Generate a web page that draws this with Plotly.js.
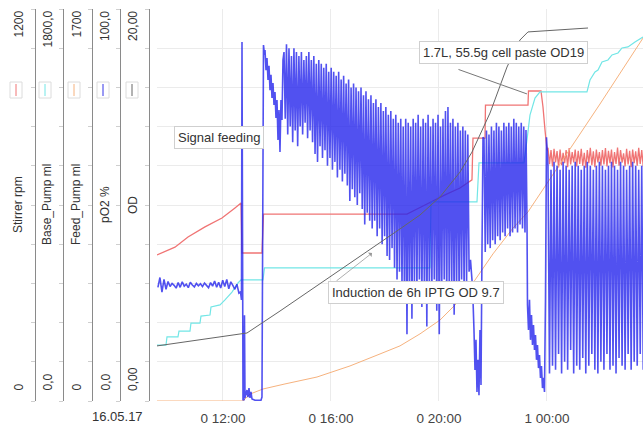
<!DOCTYPE html>
<html><head><meta charset="utf-8">
<script src="https://cdn.plot.ly/plotly-3.0.1.min.js"></script>
<style>html,body{margin:0;padding:0;background:#fff}#chart{width:643px;height:428px}</style>
</head><body><div id="chart"></div>
<script>
// ---- time axis (hours since 16.05.17 00:00) ----
const xTickVals = [12, 16, 20, 24];
const xTickText = ['0 12:00', '0 16:00', '0 20:00', '1 00:00'];
const dateLabel = '16.05.17';

// ---- left axes ----
const axisTitles = ['Stirrer rpm', 'Base_Pump ml', 'Feed_Pump ml', 'pO2 %', 'OD'];
const axisMax = [1200, 1800, 1700, 100, 20];
const axisTopLabels = ['1200', '1800,0', '1700', '100,0', '20,00'];
const axisBottomLabels = ['0', '0,0', '0', '0,0', '0,00'];

// ---- Stirrer rpm ----
const stirT = [9.556, 10.222, 10.704, 11.333, 11.963, 12.444, 12.667, 12.704, 13.444, 13.5, 18.815, 19.481, 20.222, 20.778, 21.222, 21.259, 21.704, 21.722, 23.296, 23.315, 23.778, 23.852, 23.926, 24.0];
const stirV = [447, 471, 502, 533, 560, 591, 606, 453, 453, 572, 572, 600, 631, 652, 677, 805, 805, 906, 906, 949, 949, 900, 830, 768];
// controlled phase, logged every 0.056 h from 24.037 h
const stirBandStart = 24.037, stirBandStep = 0.056;
const stirBand = [775,725,768,718,772,730,765,715,770,722,760,728,768,716,774,724,762,730,770,718,766,726,772,720,760,714,768,728,775,722,764,716,770,730,762,720,768,724,774,718,766,728,770,715,762,726,776,720,768,730,758,718,772,724,766,716,770,728,764,720,775,726,768,718,772,724];

// ---- Base_Pump ml ----
const baseT = [9.556, 9.889, 9.926, 10.333, 10.370, 10.778, 10.815, 11.148, 11.185, 11.519, 11.556, 11.889, 12.074, 12.333, 12.556, 12.667, 13.481, 13.537, 19.667, 19.704, 21.407, 21.481, 23.148, 23.259, 23.370, 23.556, 23.741, 25.481, 25.593, 25.778, 25.889, 26.037, 26.259, 26.407, 26.630, 26.778, 27.0, 27.259, 27.556];
const baseV = [257, 257, 294, 294, 321, 321, 358, 358, 390, 395, 432, 441, 464, 500, 542, 556, 556, 611, 611, 914, 914, 1093, 1093, 1199, 1313, 1391, 1419, 1419, 1474, 1511, 1520, 1557, 1566, 1589, 1598, 1621, 1626, 1648, 1671];

// ---- Feed_Pump ml ----
const feedT = [9.556, 12.741, 13.0, 13.481, 14.296, 15.481, 16.704, 17.815, 18.556, 19.296, 20.037, 20.778, 21.259, 22.0, 22.741, 23.296, 24.481, 25.963, 27.556];
const feedV = [0, 0, 30, 52, 74, 104, 152, 204, 239, 291, 351, 438, 512, 638, 750, 820, 1028, 1288, 1574];

// ---- OD ----
const odT = [9.556, 12.889, 14.111, 18.556, 19.296, 20.037, 20.778, 21.222, 21.889, 22.519, 23.0, 23.296, 25.519];
const odV = [2.81, 3.47, 4.59, 8.78, 9.49, 10.41, 11.68, 12.70, 14.69, 17.04, 18.42, 18.83, 19.03];

// ---- pO2 % ----
const pO2PreStart = 9.59, pO2PreStep = 0.075;
const pO2Pre = [29.0, 31.5, 27.8, 31.0, 28.5, 30.5, 29.2, 30.0, 29.5, 28.8, 30.2, 29.0, 30.4, 29.3, 29.8, 28.9, 30.3, 29.6, 29.1, 30.0, 29.4, 29.9, 29.2, 30.1, 29.5, 28.9, 30.2, 29.3, 30.6, 29.0, 30.3, 28.8, 30.8, 29.2, 31.0, 28.6, 30.4, 29.5, 28.5, 29.8, 27.5];
const pO2SpikeT = [12.648, 12.685, 12.704, 12.741, 12.778, 12.796, 12.815, 12.889, 12.926, 12.963, 13.0, 13.037, 13.074, 13.185, 13.407, 13.444, 13.5, 13.537, 13.556, 13.593, 13.630, 13.667, 13.704, 13.741, 13.778, 13.815, 13.852, 13.889, 13.926, 13.963, 14.0, 14.037, 14.074, 14.111, 14.148, 14.185, 14.222];
const pO2Spike = [27.8, 25.8, 91.6, 0.3, 0.3, 21.9, 0.8, 2.8, 1.0, 3.3, 0.8, 2.3, 0.5, 0.2, 0.2, 1.0, 90.8, 88.3, 89.5, 84.4, 87.5, 81.9, 85.5, 79.3, 83.2, 77.3, 81.1, 75.5, 78.8, 72.2, 76.8, 66.6, 74.2, 63.5, 76.8, 71.7, 87.0];
const pO2Band1Start = 14.26, pO2Band1Step = 0.046;
const pO2Band1 = [
  89,72, 91,68, 90,70, 88,66, 90,69, 89,65, 88,70, 89,68, 87,71, 88,67,
  89,69, 87,66, 88,63, 86,61, 87,65, 86,62, 85,64, 86,60, 84,62, 85,59,
  84,61, 83,57, 84,59, 82,56, 83,58, 81,55, 82,51, 80,54, 81,52, 80,50,
  79,53, 80,49, 78,45, 79,48, 77,46, 78,44, 76,46, 77,42, 75,44, 76,40,
  74,42, 75,37, 73,36, 74,39, 72,34, 73,31, 71,33, 72,29, 70,25, 72,17,
  71,28, 70,21, 72,30, 71,27, 73,31, 70,24, 72,29, 71,19, 73,30, 70,26,
  72,31, 71,23, 73,17, 70,28, 72,31, 74,25, 75,30, 71,27, 72,22, 70,30,
  71,26, 69,31, 70,28, 69,30, 68,33];
const pO2GapT = [21.167, 21.222, 21.259, 21.296, 21.333, 21.370, 21.407, 21.444, 21.481, 21.519, 21.556, 21.593, 21.630];
const pO2Gap = [36.0, 30.9, 25.8, 18.1, 7.9, 15.6, 2.3, 10.5, 1.5, 18.1, 4.1, 38.5, 67.3];
const pO2Band2Start = 21.667, pO2Band2Step = 0.046;
const pO2Band2 = [67,38, 69,40, 68,39, 70,41, 69,40, 71,42, 70,41, 69,43, 71,42, 70,44, 71,42, 70,43, 72,44, 71,43, 70,45, 71,44, 70,43];
const pO2DropT = [23.222, 23.259, 23.278, 23.315, 23.352, 23.389, 23.426, 23.463, 23.5, 23.537, 23.574, 23.611, 23.648, 23.685, 23.722, 23.759, 23.796, 23.833, 23.870, 23.907, 23.944, 23.981];
const pO2Drop = [69.1, 46.2, 24.5, 18.1, 25.8, 15.6, 21.9, 14.3, 19.4, 13.0, 16.8, 10.5, 14.3, 8.4, 11.7, 5.9, 8.9, 3.3, 5.9, 2.3, 25.8, 67.3];
const pO2Band3Start = 24.037, pO2Band3Step = 0.056;
const pO2Band3 = [60,7, 59,9, 61,8, 60,12, 59,7, 61,10, 60,8, 59,13, 60,7, 61,9, 60,8, 59,11, 60,7, 61,9, 60,12, 59,8, 60,7, 61,10, 60,8, 59,12, 60,8, 61,9, 60,7, 59,11, 61,9, 60,8, 59,12, 60,8, 61,10, 60,9, 59,12, 60,8, 61,10];

// ---- annotations text ----
const noteSignal = 'Signal feeding';
const notePaste = '1.7L, 55.5g cell paste OD19';
const noteInduction = 'Induction de 6h IPTG OD 9.7';

// ---------- build ----------
function sampled(t0, dt, vals) { return vals.map((_, i) => +(t0 + i * dt).toFixed(4)); }

const pO2T = [].concat(
  sampled(pO2PreStart, pO2PreStep, pO2Pre), pO2SpikeT,
  sampled(pO2Band1Start, pO2Band1Step, pO2Band1), pO2GapT,
  sampled(pO2Band2Start, pO2Band2Step, pO2Band2), pO2DropT,
  sampled(pO2Band3Start, pO2Band3Step, pO2Band3));
const pO2V = [].concat(pO2Pre, pO2Spike, pO2Band1, pO2Gap, pO2Band2, pO2Drop, pO2Band3);
const stirAllT = stirT.concat(sampled(stirBandStart, stirBandStep, stirBand));
const stirAllV = stirV.concat(stirBand);

const colors = ['#f07474', '#72e6e6', '#f6b27e', '#3434e8', '#666666'];
const W = 643, H = 428, plotTop = 9, plotBot = 401, plotLeft = 157;
const PH = plotBot - plotTop;
const axisLineX = [35, 63, 92, 120, 149];
const axisTextX = [18, 47, 76, 105, 133];
const iconX = [16, 45, 74, 103, 132];
const py = yy => (plotBot - yy) / PH;
const px = xx => xx / W;

const traces = [
  {x: pO2T, y: pO2V, yaxis: 'y5', type: 'scatter', mode: 'lines', line: {color: 'rgba(38,38,236,0.8)', width: 1.6, simplify: false}},
  {x: feedT, y: feedV, yaxis: 'y4', type: 'scatter', mode: 'lines', line: {color: colors[2], width: 1, simplify: false}},
  {x: baseT, y: baseV, yaxis: 'y3', type: 'scatter', mode: 'lines', line: {color: colors[1], width: 1.2, simplify: false}},
  {x: odT, y: odV, yaxis: 'y6', type: 'scatter', mode: 'lines', line: {color: colors[4], width: 1, simplify: false}},
  {x: stirAllT, y: stirAllV, yaxis: 'y2', type: 'scatter', mode: 'lines', line: {color: colors[0], width: 1.3, simplify: false}}
];

const fontFam = 'Liberation Sans, Arial, sans-serif';
const layout = {
  width: W, height: H,
  margin: {l: 0, r: 0, t: plotTop, b: H - plotBot},
  paper_bgcolor: '#fff', plot_bgcolor: '#fff',
  showlegend: false,
  font: {family: fontFam, size: 12, color: '#333'},
  xaxis: {domain: [plotLeft / W, 1], range: [9.556, 27.556], tickmode: 'array', tickvals: xTickVals, ticktext: xTickText,
    showgrid: true, gridcolor: '#ebebeb', zeroline: false, showline: false, ticks: 'outside', ticklen: 5, tickcolor: 'rgba(0,0,0,0)',
    tickfont: {size: 13.5, color: '#444', family: fontFam}},
  yaxis: {range: [0, 10], dtick: 1, showgrid: true, gridcolor: '#ebebeb', zeroline: false, showticklabels: false, showline: false, ticks: ''},
  annotations: [],
  shapes: []
};
for (let i = 0; i < 5; i++) {
  layout['yaxis' + (i + 2)] = {
    overlaying: 'y', anchor: 'free', position: px(axisLineX[i]), side: 'left',
    range: [0, axisMax[i]], tick0: 0, dtick: axisMax[i] / 10,
    showgrid: false, zeroline: false, showticklabels: false,
    showline: true, linecolor: '#8a8a8a', linewidth: 1,
    ticks: 'outside', ticklen: 4, tickcolor: '#cfcfcf'
  };
  const base = {xref: 'paper', yref: 'paper', showarrow: false, textangle: -90, xanchor: 'center', font: {size: 12, color: '#333', family: fontFam}};
  layout.annotations.push(Object.assign({}, base, {x: px(axisTextX[i]), y: 0.5, yanchor: 'middle', text: axisTitles[i]}));
  layout.annotations.push(Object.assign({}, base, {x: px(axisTextX[i]), y: 1, yanchor: 'top', text: axisTopLabels[i]}));
  layout.annotations.push(Object.assign({}, base, {x: px(axisTextX[i]), y: py(393), yanchor: 'bottom', text: axisBottomLabels[i]}));
  // legend-style swatch boxes
  layout.shapes.push({type: 'rect', xref: 'paper', yref: 'paper', x0: px(iconX[i] - 6), x1: px(iconX[i] + 6), y0: py(98), y1: py(82),
    line: {color: '#dcdcdc', width: 1}, fillcolor: '#fff'});
  layout.shapes.push({type: 'line', xref: 'paper', yref: 'paper', x0: px(iconX[i]), x1: px(iconX[i]), y0: py(96), y1: py(84),
    line: {color: colors[i], width: 1}});
}
layout.annotations.push({xref: 'paper', yref: 'paper', x: px(117), y: py(416), showarrow: false, xanchor: 'center', yanchor: 'middle',
  text: dateLabel, font: {size: 13, color: '#333', family: fontFam}});

const boxStyle = {showarrow: false, bgcolor: '#fff', bordercolor: '#cfcfcf', borderwidth: 1, borderpad: 3,
  font: {size: 13, color: '#333', family: fontFam}, xanchor: 'center', yanchor: 'middle', xref: 'x', yref: 'y'};
// pointer lines (drawn before boxes)
layout.annotations.push({xref: 'x', yref: 'y2', x: 23.259, y: 940, text: '', showarrow: true, arrowhead: 0, arrowwidth: 1, arrowcolor: '#777', ax: -70, ay: -25});
layout.annotations.push({xref: 'x', yref: 'y6', x: 17.52, y: 7.55, text: '', showarrow: true, arrowhead: 1, arrowsize: 1.2, arrowwidth: 0.8, arrowcolor: '#999', ax: -37, ay: 29});
layout.annotations.push(Object.assign({}, boxStyle, {x: 11.87, y: 6.73, text: noteSignal}));
layout.annotations.push(Object.assign({}, boxStyle, {x: 22.39, y: 8.89, text: notePaste}));
layout.annotations.push(Object.assign({}, boxStyle, {x: 19.13, y: 2.77, text: noteInduction}));

Plotly.newPlot('chart', traces, layout, {staticPlot: true, displayModeBar: false});
</script></body></html>
